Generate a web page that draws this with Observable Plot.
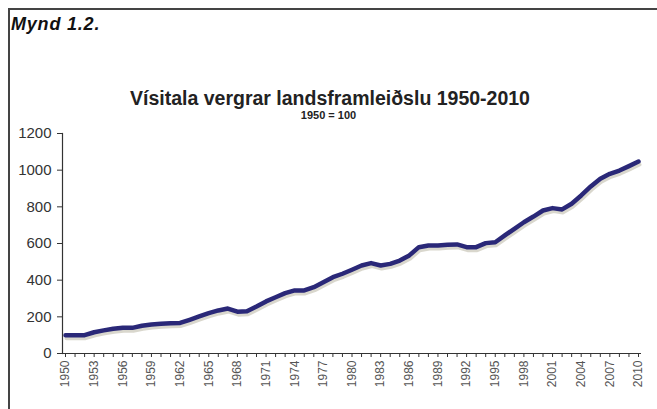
<!DOCTYPE html>
<html>
<head>
<meta charset="utf-8">
<script src="https://cdn.jsdelivr.net/npm/d3@7"></script>
<script src="https://cdn.jsdelivr.net/npm/@observablehq/plot@0.6"></script>
<style>
  html, body { margin: 0; padding: 0; background: #fff; }
  #wrap { position: relative; width: 657px; height: 409px; overflow: hidden; font-family: "Liberation Sans", Arial, sans-serif; }
  #frame { position: absolute; left: 8px; top: 8px; right: 0; bottom: -4px; border-top: 2px solid #444; border-left: 2px solid #444; }
  #fig { position: absolute; left: 11px; top: 14px; font-size: 18px; font-weight: bold; font-style: italic; letter-spacing: 0.8px; color: #111; }
  #title { position: absolute; left: 0; width: 660px; top: 87px; text-align: center; font-size: 19.5px; font-weight: bold; color: #222; }
  #sub { position: absolute; left: 0; width: 657px; top: 109px; text-align: center; font-size: 11px; font-weight: bold; color: #222; }
  #chart { position: absolute; left: 0; top: 120px; }
</style>
</head>
<body>
<div id="wrap">
  <div id="frame"></div>
  <div id="fig">Mynd 1.2.</div>
  <div id="title">Vísitala vergrar landsframleiðslu 1950-2010</div>
  <div id="sub">1950 = 100</div>
  <div id="chart"></div>
</div>
<script>
const years = d3.range(1950, 2011);
const values = [
  100, 100, 100, 116, 126, 135, 140, 140, 151, 158,
  162, 165, 167, 184, 202, 220, 235, 245, 228, 230,
  256, 284, 307, 329, 344, 344, 362, 389, 416, 435,
  457, 480, 493, 480, 489, 507, 535, 580, 589, 589,
  593, 595, 580, 580, 602, 607, 644, 680, 716, 747,
  780, 793, 786, 817, 862, 911, 953, 980, 998, 1022, 1047
];
const labelYears = d3.range(1950, 2011, 3);
const yTicks = [0, 200, 400, 600, 800, 1000, 1200];

const data = years.map((year, i) => ({year, value: values[i]}));

const chart = Plot.plot({
  width: 657,
  height: 289,
  marginTop: 13,
  marginBottom: 56,
  marginLeft: 62,
  marginRight: 16,
  style: {fontFamily: "'Liberation Sans', Arial, sans-serif", background: "transparent", overflow: "visible"},
  x: {domain: [1950, 2010], inset: 3},
  y: {domain: [0, 1200]},
  marks: [
    Plot.frame({anchor: "left", stroke: "#333", strokeWidth: 1.2}),
    Plot.ruleY([0], {stroke: "#333", strokeWidth: 1.2}),
    Plot.axisY({ticks: yTicks, tickSize: 5, tickPadding: 6, fontSize: 15, color: "#333", stroke: "#333", label: null, tickFormat: d => String(d)}),
    Plot.axisX({ticks: years, tickSize: 4, tickFormat: () => "", label: null, stroke: "#333"}),
    Plot.axisX({ticks: labelYears, tickSize: 0, tickPadding: 7, tickRotate: -90, fontSize: 12, color: "#555", label: null, tickFormat: d => String(d)}),
    Plot.line(data, {x: "year", y: "value", stroke: "#c9c6b8", strokeWidth: 4, dx: 1, dy: 3, strokeOpacity: 0.7, curve: "linear"}),
    Plot.line(data, {x: "year", y: "value", stroke: "#2a2878", strokeWidth: 4.5, strokeLinejoin: "round", strokeLinecap: "round"})
  ]
});
document.getElementById("chart").appendChild(chart);
</script>
</body>
</html>
